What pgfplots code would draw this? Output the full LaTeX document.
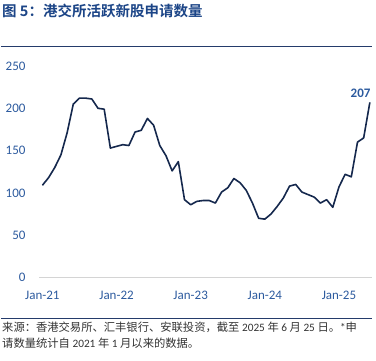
\documentclass[border=0pt]{standalone}
\usepackage{fontspec}
\setmainfont{Carlito}
\newfontfamily\cjk{Noto Sans CJK SC}
\newfontfamily\cjkb{Noto Sans CJK SC Bold}
\usepackage{pgfplots}
\pgfplotsset{compat=1.18}
\definecolor{titleblue}{HTML}{1C4587}
\definecolor{ticktxt}{HTML}{2C5A9E}
\definecolor{linenavy}{HTML}{15284D}
\definecolor{rulenavy}{HTML}{243B6B}
\definecolor{notegray}{HTML}{333333}
\begin{document}
\begin{tikzpicture}
\useasboundingbox (0,0) rectangle (376pt,-360pt);
\node[anchor=west, text=titleblue, font=\cjkb\fontsize{14.5}{16}\selectfont, inner sep=0pt] at (2pt,-11pt) {图 5：港交所活跃新股申请数量};
\draw[rulenavy, line width=1.2pt] (1pt,-46.5pt) -- (372pt,-46.5pt);
\draw[rulenavy, line width=1.2pt] (1pt,-318.3pt) -- (372pt,-318.3pt);
\node[anchor=west, text=notegray, font=\fontsize{11.3}{15}\selectfont, inner sep=0pt] at (2pt,-327pt) {{\cjk 来源：香港交易所、汇丰银行、安联投资，截至}~2025~{\cjk 年}~6~{\cjk 月}~25~{\cjk 日。}*{\cjk 申}};
\node[anchor=west, text=notegray, font=\fontsize{11.3}{15}\selectfont, inner sep=0pt] at (2pt,-343pt) {{\cjk 请数量统计自}~2021~{\cjk 年}~1~{\cjk 月以来的数据。}};
\begin{axis}[
  at={(39pt,-277.5pt)}, anchor=south west,
  scale only axis, width=332.7pt, height=211.5pt,
  xmin=-0.55, xmax=53.3, ymin=0, ymax=250,
  clip=false,
  axis x line*=bottom, axis y line*=left,
  x axis line style={draw=none},
  y axis line style={draw=none},
  xtick={0,12,24,36,48},
  xticklabels={Jan-21,Jan-22,Jan-23,Jan-24,Jan-25},
  ytick={0,50,100,150,200,250},
  major tick length=0pt,
  tick label style={font=\fontsize{13}{15}\selectfont, text=ticktxt},
  xticklabel style={yshift=-10pt},
  yticklabel style={anchor=east, xshift=-10pt},
  /pgf/number format/assume math mode=true,
]
\draw[black!17, line width=1.6pt] (axis cs:-0.55,0) -- (axis cs:53.3,0);
\addplot[linenavy, line width=1.6pt, line join=round] coordinates {
(0,109)(1,118)(2,130)(3,145)(4,171)(5,205)(6,212)(7,212)(8,211)(9,200)(10,199)
(11,153)(12,155)(13,157)(14,156)(15,172)(16,174)(17,188)(18,180)(19,156)(20,144)
(21,126)(22,137)(23,92)(24,86)(25,90)(26,91)(27,91)(28,88)(29,101)(30,106)
(31,117)(32,112)(33,103)(34,88)(35,70)(36,69)(37,75)(38,84)(39,94)(40,108)
(41,110)(42,101)(43,98)(44,95)(45,88)(46,92)(47,83)(48,107)(49,122)(50,119)
(51,160)(52,165)(53,207)
};
\node[text=ticktxt, font=\bfseries\fontsize{13}{15}\selectfont, anchor=center] at (axis cs:51.5,218) {207};
\end{axis}
\end{tikzpicture}
\end{document}
